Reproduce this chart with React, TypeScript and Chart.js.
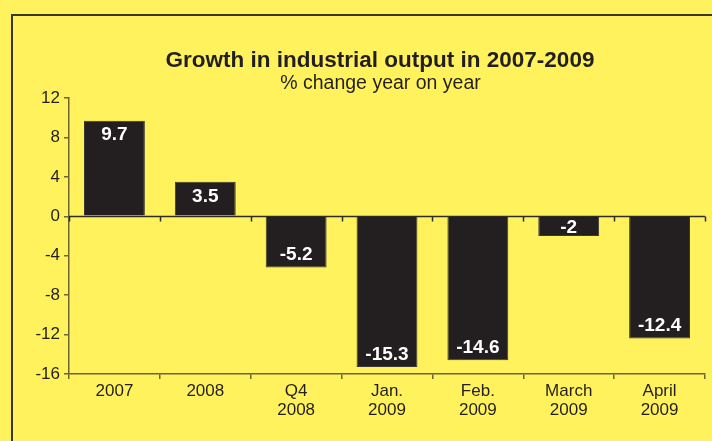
import React, { useEffect, useRef } from "react";
import { Chart, registerables } from "chart.js";

Chart.register(...registerables);

const categories: string[][] = [
  ["2007"],
  ["2008"],
  ["Q4", "2008"],
  ["Jan.", "2009"],
  ["Feb.", "2009"],
  ["March", "2009"],
  ["April", "2009"],
];
const growth: number[] = [9.7, 3.5, -5.2, -15.3, -14.6, -2, -12.4];
const yMin = -16;
const yMax = 12;
const yStep = 4;
const titleText = "Growth in industrial output in 2007-2009";
const subtitleText = "% change year on year";

const BG = "#FFF25C";
const BAR = "#231F20";
const AXIS = "#6B6533";
const INK = "#231F20";
const FONT = "'Liberation Sans', Arial, Helvetica, sans-serif";

const titlePlugin = {
  id: "customTitle",
  afterDraw(chart: any) {
    const ctx = chart.ctx;
    ctx.save();
    ctx.fillStyle = INK;
    ctx.textAlign = "center";
    ctx.textBaseline = "alphabetic";
    ctx.font = `bold 22.5px ${FONT}`;
    ctx.fillText(titleText, 380, 66.5);
    ctx.font = `19.5px ${FONT}`;
    ctx.fillText(subtitleText, 380.5, 89);
    ctx.restore();
  },
};

const zeroLinePlugin = {
  id: "zeroLine",
  beforeDatasetsDraw(chart: any) {
    const { ctx, scales } = chart;
    const x = scales.x;
    const y = scales.y;
    const y0 = Math.round(y.getPixelForValue(0)) + 0.5;
    ctx.save();
    ctx.strokeStyle = "#2E2B22";
    ctx.lineWidth = 1.5;
    ctx.beginPath();
    ctx.moveTo(x.left, y0);
    ctx.lineTo(x.right, y0);
    const n = categories.length;
    for (let i = 0; i <= n; i++) {
      const px = Math.round(x.left + ((x.right - x.left) * i) / n) + 0.5;
      ctx.moveTo(px, y0);
      ctx.lineTo(px, y0 + 5);
    }
    ctx.stroke();
    ctx.restore();
  },
};

const barLabelPlugin = {
  id: "barLabels",
  afterDatasetsDraw(chart: any) {
    const ctx = chart.ctx;
    const meta = chart.getDatasetMeta(0);
    ctx.save();
    ctx.fillStyle = "#FFFFFF";
    ctx.font = `bold 19px ${FONT}`;
    ctx.textAlign = "center";
    ctx.textBaseline = "middle";
    meta.data.forEach((bar: any, i: number) => {
      const { x, y, base } = bar.getProps(["x", "y", "base"], true);
      const len = Math.abs(base - y);
      const dir = y < base ? 1 : -1;
      const ly = len < 30 ? (y + base) / 2 : y + dir * 13.5;
      ctx.fillText(String(growth[i]), x, ly + 1);
    });
    ctx.restore();
  },
};

export default function App() {
  const ref = useRef<HTMLCanvasElement | null>(null);

  useEffect(() => {
    if (!ref.current) return;
    const chart = new Chart(ref.current, {
      type: "bar",
      data: {
        labels: categories,
        datasets: [
          {
            data: growth,
            backgroundColor: BAR,
            borderColor: "#3C3838",
            borderWidth: 1,
            barPercentage: 0.67,
            categoryPercentage: 1,
          },
        ],
      },
      options: {
        animation: false,
        responsive: false,
        maintainAspectRatio: false,
        layout: { padding: { top: 98, right: 7, left: 0, bottom: 0 } },
        plugins: {
          legend: { display: false },
          title: { display: false },
          tooltip: { enabled: false },
        },
        scales: {
          x: {
            type: "category",
            offset: true,
            grid: {
              offset: true,
              drawOnChartArea: false,
              drawTicks: true,
              tickLength: 5,
              color: AXIS,
              lineWidth: 1.5,
            },
            border: { display: true, color: AXIS, width: 1.5 },
            ticks: {
              color: INK,
              font: { family: FONT, size: 17, lineHeight: 1.16 },
              padding: 2,
              maxRotation: 0,
              autoSkip: false,
            },
            afterFit(scale: any) {
              scale.height = 67;
            },
          },
          y: {
            min: yMin,
            max: yMax,
            ticks: {
              stepSize: yStep,
              color: INK,
              font: { family: FONT, size: 17 },
              padding: 4,
            },
            grid: {
              drawOnChartArea: false,
              drawTicks: true,
              tickLength: 5,
              color: AXIS,
              lineWidth: 1.5,
            },
            border: { display: true, color: AXIS, width: 1.5 },
            afterFit(scale: any) {
              scale.width = 69;
            },
          },
        },
      },
      plugins: [zeroLinePlugin, barLabelPlugin, titlePlugin],
    });
    return () => chart.destroy();
  }, []);

  return (
    <div
      style={{
        position: "fixed",
        left: 0,
        top: 0,
        width: 712,
        height: 441,
        background: BG,
        overflow: "hidden",
      }}
    >
      <div
        style={{
          position: "absolute",
          left: 11,
          top: 14,
          right: -20,
          bottom: -20,
          borderLeft: "2px solid #3A382C",
          borderTop: "2px solid #3A382C",
        }}
      />
      <canvas
        ref={ref}
        width={712}
        height={441}
        style={{ position: "absolute", left: 0, top: 0, width: 712, height: 441 }}
      />
    </div>
  );
}
